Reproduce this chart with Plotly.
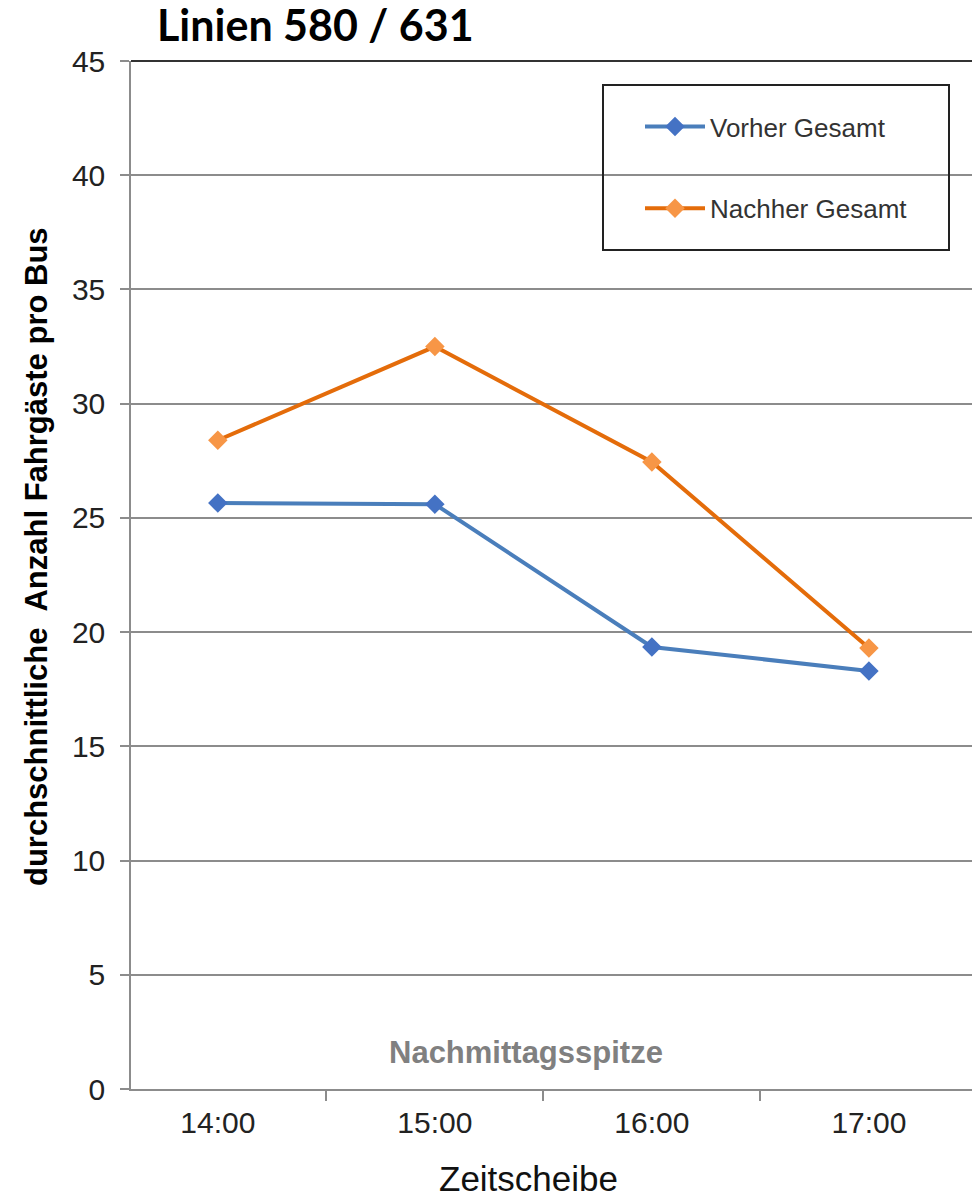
import plotly.graph_objects as go

categories = ["14:00", "15:00", "16:00", "17:00"]
vorher = [25.65, 25.6, 19.35, 18.3]
nachher = [28.4, 32.5, 27.45, 19.3]
y_ticks = [0, 5, 10, 15, 20, 25, 30, 35, 40, 45]

W, H = 972, 1200
L, R, T, B = 131, 0, 61, 111
pw = W - L - R
ph = H - T - B

def px_x(px):
    return (px - L) / pw

def px_y(py):
    return (H - B - py) / ph

fig = go.Figure()
fig.add_trace(go.Scatter(
    x=categories, y=vorher, name="Vorher Gesamt", mode="lines+markers",
    line=dict(color="#4A7EBB", width=4),
    marker=dict(symbol="diamond", size=15, color="#4472C4"),
    legendgroup="a"))
fig.add_trace(go.Scatter(
    x=categories, y=nachher, name="Nachher Gesamt", mode="lines+markers",
    line=dict(color="#E46C0A", width=4),
    marker=dict(symbol="diamond", size=15, color="#F79646"),
    legendgroup="b"))

fig.update_layout(
    width=W, height=H,
    margin=dict(l=L, r=R, t=T, b=B, pad=0),
    paper_bgcolor="white", plot_bgcolor="white",
    font=dict(family="Liberation Sans, Arial, sans-serif", color="#222222"),
    showlegend=True,
    legend=dict(
        x=px_x(640), y=px_y(103), xanchor="left", yanchor="top",
        bgcolor="rgba(0,0,0,0)", borderwidth=0,
        font=dict(size=26, color="#333333"),
        traceorder="grouped", tracegroupgap=45, itemwidth=60,
    ),
    xaxis=dict(
        type="category", range=[-0.4, 3.475], tickson="boundaries",
        showgrid=False, showline=True, linecolor="#8C8C8C", linewidth=1.5,
        ticks="outside", ticklen=10, tickcolor="#8C8C8C", tickwidth=1.5,
        tickfont=dict(size=30, color="#222222"), ticklabelstandoff=6,
        zeroline=False,
    ),
    yaxis=dict(
        range=[0, 45], tickvals=y_ticks, showgrid=True, gridcolor="#8C8C8C",
        gridwidth=1.5, showline=True, linecolor="#8C8C8C", linewidth=1.5,
        ticks="outside", ticklen=9, tickcolor="#8C8C8C", tickwidth=1.5,
        tickfont=dict(size=30, color="#222222"), ticklabelstandoff=9,
        zeroline=False,
    ),
    shapes=[
        dict(type="line", xref="paper", yref="paper", x0=0, x1=1, y0=1, y1=1,
             line=dict(color="#333333", width=2)),
        dict(type="rect", xref="paper", yref="paper",
             x0=px_x(603), x1=px_x(949), y0=px_y(250), y1=px_y(85),
             line=dict(color="#222222", width=2), fillcolor="rgba(0,0,0,0)"),
    ],
    annotations=[
        dict(text="<b>Linien 580 / 631</b>", xref="paper", yref="paper",
             x=px_x(315), y=px_y(25), xanchor="center", yanchor="middle",
             showarrow=False, font=dict(family="Lato, Open Sans, sans-serif", size=43, color="black")),
        dict(text="<b>durchschnittliche  Anzahl Fahrgäste pro Bus</b>", xref="paper", yref="paper",
             x=px_x(36), y=px_y(557), xanchor="center", yanchor="middle", textangle=-90,
             showarrow=False, font=dict(size=31, color="black")),
        dict(text="Zeitscheibe", xref="paper", yref="paper",
             x=px_x(528), y=px_y(1178), xanchor="center", yanchor="middle",
             showarrow=False, font=dict(size=35, color="#111111")),
        dict(text="<b>Nachmittagsspitze</b>", xref="paper", yref="paper",
             x=px_x(526), y=px_y(1052), xanchor="center", yanchor="middle",
             showarrow=False, font=dict(size=31, color="#808080")),
    ],
)

fig.write_html("out.html")
